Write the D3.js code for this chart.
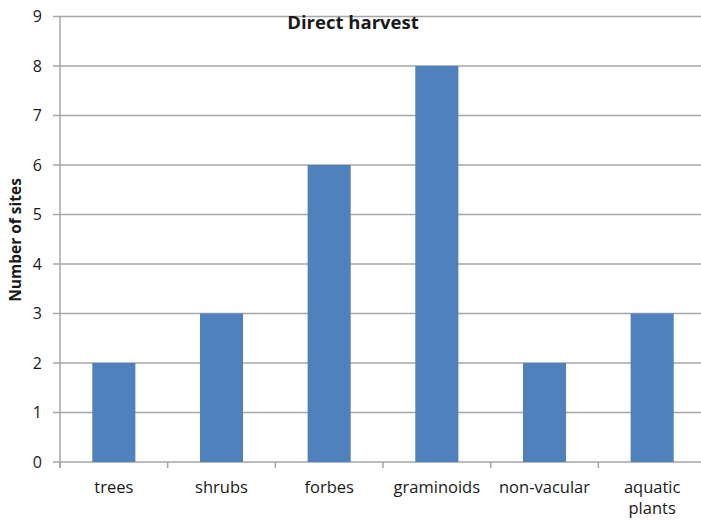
<!DOCTYPE html>
<html>
<head>
<meta charset="utf-8">
<script src="https://cdn.jsdelivr.net/npm/d3@7"></script>
<style>
  html, body { margin: 0; padding: 0; background: #fff; }
  svg { display: block; }
  text { font-family: "Open Sans", "DejaVu Sans", sans-serif; fill: #1a1a1a; }
</style>
</head>
<body>
<svg id="chart" width="701" height="521"></svg>
<script>
// Plant groups and the number of sites using direct harvest
const categories = ["trees", "shrubs", "forbes", "graminoids", "non-vacular", "aquatic plants"];
const sites = [2, 3, 6, 8, 2, 3];
const yTicks = [0, 1, 2, 3, 4, 5, 6, 7, 8, 9];

const svg = d3.select("#chart");
const plotLeft = 60, plotRight = 706, plotTop = 16.5, plotBottom = 462;

const x = d3.scaleBand().domain(categories).range([plotLeft, plotRight]).padding(0);
const y = d3.scaleLinear().domain([0, 9]).range([plotBottom, plotTop]);

const gridColor = "#a6a6a6";

// horizontal gridlines with small outer tick
svg.append("g")
  .selectAll("line")
  .data(yTicks)
  .join("line")
  .attr("x1", plotLeft - 7)
  .attr("x2", 701)
  .attr("y1", d => y(d))
  .attr("y2", d => y(d))
  .attr("stroke", gridColor)
  .attr("stroke-width", 1.5);

// y axis labels
svg.append("g")
  .selectAll("text")
  .data(yTicks)
  .join("text")
  .attr("x", 42)
  .attr("y", d => y(d))
  .attr("dy", "0.35em")
  .attr("text-anchor", "end")
  .attr("font-size", 16)
  .text(d => d);

// bars: 40% of each category band, centred
const barW = x.bandwidth() * 0.4;
svg.append("g")
  .selectAll("rect")
  .data(categories)
  .join("rect")
  .attr("x", d => x(d) + (x.bandwidth() - barW) / 2)
  .attr("width", barW)
  .attr("y", (d, i) => y(sites[i]))
  .attr("height", (d, i) => y(0) - y(sites[i]))
  .attr("fill", "#4f81bd");

// vertical axis line
svg.append("line")
  .attr("x1", plotLeft).attr("x2", plotLeft)
  .attr("y1", y(9)).attr("y2", y(0) + 6)
  .attr("stroke", gridColor)
  .attr("stroke-width", 1.5);

// category tick marks
svg.append("g")
  .selectAll("line")
  .data(categories)
  .join("line")
  .attr("x1", d => x(d))
  .attr("x2", d => x(d))
  .attr("y1", y(0))
  .attr("y2", y(0) + 6)
  .attr("stroke", gridColor)
  .attr("stroke-width", 1.5);

// category labels, wrapped onto two lines where needed
const labelRows = { "aquatic plants": ["aquatic", "plants"] };
svg.append("g")
  .selectAll("text")
  .data(categories)
  .join("text")
  .attr("x", d => x(d) + x.bandwidth() / 2)
  .attr("y", 493)
  .attr("text-anchor", "middle")
  .attr("font-size", 16.5)
  .each(function (d) {
    const rows = labelRows[d] || [d];
    const t = d3.select(this);
    rows.forEach((r, k) => {
      t.append("tspan")
        .attr("x", x(d) + x.bandwidth() / 2)
        .attr("dy", k === 0 ? 0 : 21)
        .text(r);
    });
  });

// title
svg.append("text")
  .attr("x", 353)
  .attr("y", 29)
  .attr("text-anchor", "middle")
  .attr("font-size", 18.5)
  .attr("font-weight", "bold")
  .text("Direct harvest");

// y axis title
svg.append("text")
  .attr("transform", "translate(21,240) rotate(-90)")
  .attr("text-anchor", "middle")
  .attr("font-size", 15.5)
  .attr("font-weight", "bold")
  .text("Number of sites");
</script>
</body>
</html>
